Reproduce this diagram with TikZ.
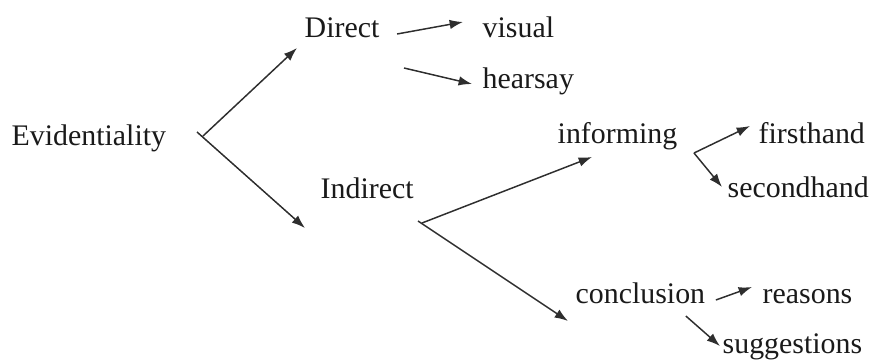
\documentclass[tikz,border=0pt]{standalone}
\usepackage{fontspec}
\setmainfont{Liberation Serif}
\usepackage{tikz}
\usetikzlibrary{arrows.meta,calc}
\definecolor{tinte}{HTML}{1A1A1A}
\definecolor{strich}{HTML}{2E2E2E}
\tikzset{
  pfeil/.style={-{Latex[length=3.8pt,width=2.7pt]},strich,line width=0.42pt},
  wort/.style={tinte,anchor=base west,inner sep=0pt,font=\fontsize{8.5}{10}\selectfont},
}
\begin{document}
\begin{tikzpicture}
  \useasboundingbox (0,0) rectangle (8.72,3.63);
  \node[wort] (evid) at (0.11,2.18) {Evidentiality};
  \node[wort] (direct) at (3.04,3.26) {Direct};
  \node[wort] (visual) at (4.82,3.26) {visual};
  \node[wort] (hearsay) at (4.82,2.75) {hearsay};
  \node[wort] (indirect) at (3.20,1.65) {Indirect};
  \node[wort] (informing) at (5.57,2.20) {informing};
  \node[wort] (firsthand) at (7.58,2.20) {firsthand};
  \node[wort] (secondhand) at (7.27,1.66) {secondhand};
  \node[wort] (conclusion) at (5.75,0.60) {conclusion};
  \node[wort] (reasons) at (7.62,0.60) {reasons};
  \node[wort] (suggestions) at (7.22,0.10) {suggestions};
  \coordinate (evi-fork) at (2.03,2.27);
  \coordinate (ind-fork) at (4.22,1.40);
  \coordinate (inf-fork) at (6.94,2.10);
  \draw[pfeil] (evi-fork) -- ([shift={(-0.07,-0.11)}]direct.base west);
  \draw[pfeil] ([shift={(-0.06,0.04)}]evi-fork) -- ([shift={(-0.15,-0.30)}]indirect.base west);
  \draw[pfeil] ([shift={(0.17,0.03)}]direct.base east) -- ([shift={(-0.19,0.15)}]visual.base west);
  \draw[pfeil] ([shift={(0.24,-0.31)}]direct.base east) -- ([shift={(-0.10,0.04)}]hearsay.base west);
  \draw[pfeil] (ind-fork) -- ([shift={(0.35,-0.14)}]informing.base west);
  \draw[pfeil] ([shift={(-0.04,0.02)}]ind-fork) -- ([shift={(-0.07,-0.18)}]conclusion.base west);
  \draw[pfeil] (inf-fork) -- ([shift={(-0.08,0.17)}]firsthand.base west);
  \draw[pfeil] (inf-fork) -- ([shift={(-0.05,0.10)}]secondhand.base west);
  \draw[pfeil] ([shift={(0.10,0.03)}]conclusion.base east) -- ([shift={(-0.10,0.16)}]reasons.base west);
  \draw[pfeil] ([shift={(-0.20,-0.13)}]conclusion.base east) -- ([shift={(-0.02,0.07)}]suggestions.base west);
\end{tikzpicture}
\end{document}
